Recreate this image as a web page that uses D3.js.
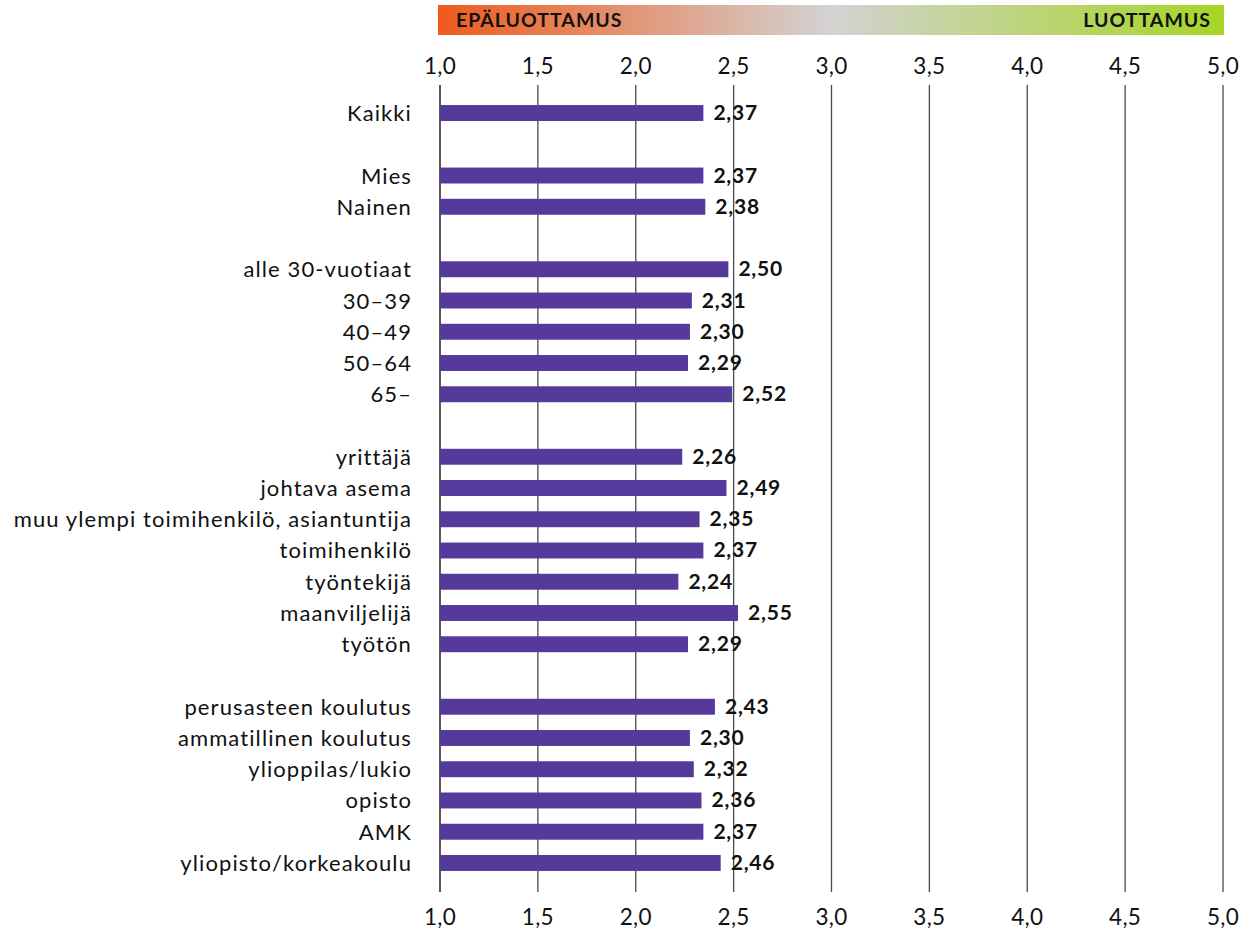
<!DOCTYPE html>
<html><head><meta charset="utf-8">
<script src="https://cdn.jsdelivr.net/npm/d3@7/dist/d3.min.js"></script>
<style>body{margin:0;background:#fff;} text{font-family:Lato,"Noto Sans",sans-serif;}</style>
</head><body>
<svg id="c" width="1245" height="930"></svg>
<script>
const categories = ["Kaikki", "", "Mies", "Nainen", " ", "alle 30-vuotiaat", "30–39", "40–49", "50–64", "65–", "  ",
  "yrittäjä", "johtava asema", "muu ylempi toimihenkilö, asiantuntija", "toimihenkilö", "työntekijä", "maanviljelijä", "työtön", "   ",
  "perusasteen koulutus", "ammatillinen koulutus", "ylioppilas/lukio", "opisto", "AMK", "yliopisto/korkeakoulu"];
const values = [2.37, null, 2.37, 2.38, null, 2.50, 2.31, 2.30, 2.29, 2.52, null,
  2.26, 2.49, 2.35, 2.37, 2.24, 2.55, 2.29, null,
  2.43, 2.30, 2.32, 2.36, 2.37, 2.46];
const tickValues = [1.0, 1.5, 2.0, 2.5, 3.0, 3.5, 4.0, 4.5, 5.0];
const scaleLabels = ["EPÄLUOTTAMUS", "LUOTTAMUS"];

const svg = d3.select("#c");
const x = d3.scaleLinear().domain([1, 5]).range([440, 1223]);
const xBar = d3.scaleLinear().domain([1, 5]).range([440, 1209]);
const y = d3.scaleBand().domain(categories).range([97.4, 878.6]).paddingInner(0.49).paddingOuter(0.245);
const fmt = v => d3.format(".2f")(v).replace(".", ",");
const fmt1 = v => d3.format(".1f")(v).replace(".", ",");

// gradient header
const defs = svg.append("defs");
const g = defs.append("linearGradient").attr("id", "grad");
g.append("stop").attr("offset", "0%").attr("stop-color", "#f05a1c");
g.append("stop").attr("offset", "50%").attr("stop-color", "#d3d3d3");
g.append("stop").attr("offset", "100%").attr("stop-color", "#a6d523");
svg.append("rect").attr("x", 438).attr("y", 5).attr("width", 786).attr("height", 30).attr("fill", "url(#grad)");
svg.append("text").attr("x", 456).attr("y", 27).attr("font-size", 19.5).attr("letter-spacing", 1).attr("font-weight", "bold").attr("fill", "#111").text(scaleLabels[0]);
svg.append("text").attr("x", 1211).attr("y", 27).attr("text-anchor", "end").attr("font-size", 19.5).attr("letter-spacing", 1).attr("font-weight", "bold").attr("fill", "#111").text(scaleLabels[1]);

// gridlines
svg.append("g").selectAll("line").data(tickValues).join("line")
  .attr("x1", d => x(d)).attr("x2", d => x(d)).attr("y1", 85).attr("y2", 892)
  .attr("stroke", d => d === 1 ? "#000" : "#4a4a4a").attr("stroke-width", 1.3);

// tick labels top and bottom
[74, 925].forEach(yy => {
  svg.append("g").selectAll("text").data(tickValues).join("text")
    .attr("x", d => x(d)).attr("y", yy).attr("text-anchor", "middle").attr("font-size", 22.5).attr("letter-spacing", 0.3).attr("fill", "#111")
    .text(d => fmt1(d));
});

// category labels
svg.append("g").selectAll("text").data(categories.filter(c => c.trim() !== "")).join("text")
  .attr("x", 412).attr("y", d => y(d) + y.bandwidth() / 2 + 8).attr("text-anchor", "end")
  .attr("font-size", 22).attr("letter-spacing", 1.1).attr("fill", "#111").text(d => d);

const data = categories.map((c, i) => ({c, v: values[i]})).filter(d => d.v != null);
svg.append("g").selectAll("rect").data(data).join("rect")
  .attr("x", xBar(1)).attr("y", d => y(d.c)).attr("height", y.bandwidth())
  .attr("width", d => xBar(d.v) - xBar(1)).attr("fill", "#553a9b");
svg.append("g").selectAll("text").data(data).join("text")
  .attr("x", d => xBar(d.v) + 10).attr("y", d => y(d.c) + y.bandwidth() / 2 + 7)
  .attr("font-size", 21).attr("letter-spacing", 0.8).attr("font-weight", "bold").attr("fill", "#111").text(d => fmt(d.v));
</script>
</body></html>
